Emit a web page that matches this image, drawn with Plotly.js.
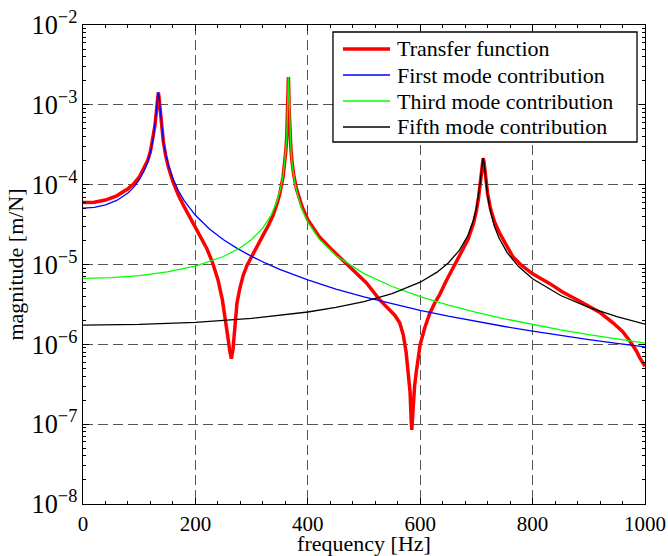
<!DOCTYPE html>
<html>
<head>
<meta charset="utf-8">
<script src="https://cdn.plot.ly/plotly-3.0.1.min.js"></script>
<style>html,body{margin:0;padding:0;background:#fff;}#chart{width:668px;height:556px;}</style>
</head>
<body>
<div id="chart"></div>
<script>
// Transfer function (red)
const freqTransfer = [0,20,40,60,80,90,100,110,115,120,125,128,130,132,133,134,135,136,138,140,143,147,152,160,170,180,190,200,210,220,230,240,248,254,258,261,264,267,270,274,279,285,292,300,310,320,330,338,345,350,356,359,361,362.5,363.5,364.3,365,365.5,366,366.7,367.5,368.5,370,372,375,380,390,400,420,440,468.6,490,504,528,545,555,563.5,570,575,580,582,584,585,586,588,590,593,598,600,608,617,626,634.7,646.6,655,670,685,695,700,704,707,709,710.5,712,713.5,715,717,720,725,732,741.5,755,765,780,800,830,854,880,901.6,920,943,960,973,985,990.6,1000];
const magTransfer = [6.0e-5,6.04e-5,6.42e-5,7.25e-5,8.9e-5,1.02e-4,1.24e-4,1.65e-4,2.0e-4,2.62e-4,3.88e-4,5.49e-4,7.54e-4,1.117e-3,1.338e-3,1.43e-3,1.30e-3,1.07e-3,7.07e-4,5.03e-4,3.42e-4,2.35e-4,1.65e-4,1.09e-4,7.3e-5,5.3e-5,3.95e-5,2.99e-5,2.2e-5,1.6e-5,1.08e-5,6.5e-6,3.6e-6,2.0e-6,1.2e-6,8.4e-7,6.6e-7,8.8e-7,1.7e-6,3.3e-6,5.0e-6,7.3e-6,9.8e-6,1.27e-5,1.7e-5,2.3e-5,3.1e-5,4.1e-5,5.7e-5,7.6e-5,1.247e-4,1.84e-4,2.68e-4,3.97e-4,5.86e-4,9.25e-4,1.64e-3,2.23e-3,1.65e-3,9.3e-4,5.95e-4,4.06e-4,2.76e-4,1.93e-4,1.32e-4,8.75e-5,5.26e-5,3.65e-5,2.25e-5,1.6e-5,1.04e-5,7.3e-6,5.9e-6,3.6e-6,2.7e-6,2.3e-6,1.86e-6,1.3e-6,7.9e-7,3.9e-7,2.5e-7,1.1e-7,8.5e-8,1.1e-7,2.2e-7,3.0e-7,4.5e-7,8.0e-7,1.0e-6,1.6e-6,2.44e-6,3.3e-6,4.2e-6,6.3e-6,8.2e-6,1.3e-5,2.05e-5,3.3e-5,4.7e-5,7.0e-5,1.04e-4,1.46e-4,1.88e-4,2.14e-4,1.94e-4,1.53e-4,1.11e-4,7.65e-5,5.05e-5,3.45e-5,2.45e-5,1.65e-5,1.25e-5,9.8e-6,7.65e-6,5.8e-6,4.5e-6,3.6e-6,3.0e-6,2.5e-6,1.86e-6,1.45e-6,1.1e-6,8.2e-7,6.8e-7,5.3e-7];

// First mode contribution (blue)
const freqMode1 = [0,20,40,60,80,90,100,110,115,120,125,128,130,132,133,134,135,136,138,140,143,147,152,160,170,180,200,225,250,275,300,325,350,400,450,500,550,600,650,700,750,800,850,900,950,1000];
const magMode1 = [5.07e-5,5.19e-5,5.57e-5,6.34e-5,7.88e-5,9.24e-5,1.144e-4,1.555e-4,1.91e-4,2.53e-4,3.79e-4,5.40e-4,7.45e-4,1.108e-3,1.329e-3,1.432e-3,1.311e-3,1.082e-3,7.17e-4,5.13e-4,3.52e-4,2.45e-4,1.751e-4,1.191e-4,8.32e-5,6.30e-5,4.13e-5,2.787e-5,2.044e-5,1.579e-5,1.264e-5,1.038e-5,8.71e-6,6.41e-6,4.93e-6,3.92e-6,3.2e-6,2.66e-6,2.25e-6,1.93e-6,1.672e-6,1.464e-6,1.292e-6,1.149e-6,1.029e-6,9.27e-7];

// Third mode contribution (green)
const freqMode3 = [0,50,100,150,200,250,280,300,320,335,345,352,356,359,361,362.5,363.5,364.3,365,365.5,366,366.7,367.5,368.5,370,372,375,380,390,400,420,450,500,550,600,650,700,750,800,850,900,950,1000];
const magMode3 = [6.7e-6,6.83e-6,7.24e-6,8.06e-6,9.56e-6,1.259e-5,1.622e-5,2.053e-5,2.87e-5,4.19e-5,6.15e-5,9.24e-5,1.306e-4,1.90e-4,2.74e-4,4.03e-4,5.92e-4,9.31e-4,1.65e-3,2.233e-3,1.65e-3,9.27e-4,5.89e-4,4.0e-4,2.70e-4,1.867e-4,1.272e-4,8.28e-5,4.84e-5,3.39e-5,2.091e-5,1.299e-5,7.69e-6,5.30e-6,3.95e-6,3.10e-6,2.51e-6,2.087e-6,1.767e-6,1.52e-6,1.323e-6,1.164e-6,1.033e-6];

// Fifth mode contribution (black)
const freqMode5 = [0,100,200,300,400,450,500,550,600,630,650,670,685,695,700,704,707,709,710.5,712,713.5,715,717,720,725,732,740,755,775,800,850,900,950,1000];
const magMode5 = [1.74e-6,1.775e-6,1.889e-6,2.116e-6,2.542e-6,2.897e-6,3.433e-6,4.315e-6,6.00e-6,8.02e-6,1.045e-5,1.516e-5,2.326e-5,3.64e-5,5.07e-5,7.33e-5,1.078e-4,1.493e-4,1.91e-4,2.148e-4,1.90e-4,1.485e-4,1.069e-4,7.24e-5,4.61e-5,3.02e-5,2.159e-5,1.398e-5,9.42e-6,6.63e-6,4.09e-6,2.91e-6,2.23e-6,1.789e-6];

const seriesNames = ["Transfer function","First mode contribution","Third mode contribution","Fifth mode contribution"];
const seriesColors = ["#ff0000","#0000ff","#00ff00","#000000"];
const seriesWidths = [3.5, 1.3, 1.3, 1.3];

const FONT = "Liberation Serif, Times New Roman, serif";

const freqs = [freqTransfer, freqMode1, freqMode3, freqMode5];
const mags = [magTransfer, magMode1, magMode3, magMode5];
const traces = seriesNames.map((n, i) => ({
  x: freqs[i], y: mags[i], name: n, type: "scatter", mode: "lines",
  line: {color: seriesColors[i], width: seriesWidths[i]}, showlegend: false
}));

// Legend drawn with shapes + annotations (paper coordinates)
const legX0 = 0.4448, legX1 = 0.9858, legY0 = 0.7557, legY1 = 0.9854;
const rowY = [0.9499, 0.8956, 0.8413, 0.7871];
const shapes = [{type: "rect", xref: "paper", yref: "paper", x0: legX0, x1: legX1, y0: legY0, y1: legY1,
  fillcolor: "#fff", line: {color: "#000", width: 1.3}, layer: "above"}];
const annotations = [];
seriesNames.forEach((n, i) => {
  shapes.push({type: "line", xref: "paper", yref: "paper", x0: 0.4626, x1: 0.5463, y0: rowY[i], y1: rowY[i],
    line: {color: seriesColors[i], width: i === 0 ? 3.5 : 1.5}, layer: "above"});
  annotations.push({xref: "paper", yref: "paper", x: 0.5552, y: rowY[i], xanchor: "left", yanchor: "middle",
    text: n, showarrow: false, font: {family: FONT, size: 22, color: "#000"}});
});

const axisCommon = {
  showline: true, linecolor: "#000", linewidth: 1.4, mirror: "ticks",
  ticks: "inside", ticklen: 6, tickwidth: 1, tickcolor: "#000",
  showgrid: true, gridcolor: "#555", gridwidth: 1, griddash: "10px,5px",
  zeroline: false, tickfont: {family: FONT, size: 21, color: "#000"}
};

const layout = {
  width: 668, height: 556,
  margin: {l: 83, r: 23, t: 25, b: 52, pad: 0},
  paper_bgcolor: "#fff", plot_bgcolor: "#fff",
  font: {family: FONT, size: 21, color: "#000"},
  showlegend: false,
  shapes: shapes,
  annotations: annotations,
  xaxis: Object.assign({}, axisCommon, {
    range: [0, 1000], tick0: 0, dtick: 200,
    minor: {dtick: 40, ticks: "inside", ticklen: 3, tickcolor: "#000", showgrid: false},
    title: {text: "frequency [Hz]", font: {family: FONT, size: 22, color: "#000"}, standoff: 4}
  }),
  yaxis: Object.assign({}, axisCommon, {
    type: "log", range: [-8, -2], dtick: 1, exponentformat: "power", showexponent: "all",
    minor: {dtick: "D1", ticks: "inside", ticklen: 3, tickcolor: "#000", showgrid: false},
    title: {text: "magnitude [m/N]", font: {family: FONT, size: 22, color: "#000"}, standoff: 2}
  })
};

Plotly.newPlot("chart", traces, layout, {displayModeBar: false, staticPlot: true});
</script>
</body>
</html>
